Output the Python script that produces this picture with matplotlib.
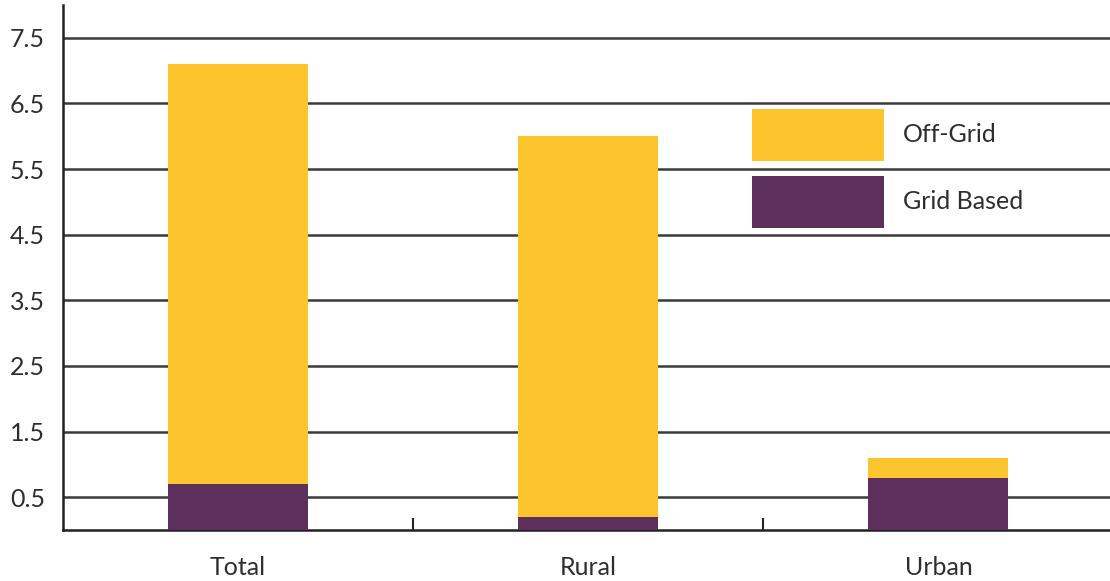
import numpy as np
import matplotlib.pyplot as plt
from matplotlib.ticker import FixedLocator

# data
categories = ['Total', 'Rural', 'Urban']
grid_based = [0.7, 0.2, 0.8]
off_grid = [6.4, 5.8, 0.3]
y_ticks = [0.5, 1.5, 2.5, 3.5, 4.5, 5.5, 6.5, 7.5]

yellow = '#FDC52D'
purple = '#5C2F5C'
txt = '#2e2e2e'

plt.rcParams['font.family'] = ['Lato', 'DejaVu Sans']

fig = plt.figure(figsize=(11.1, 5.81), dpi=100)
ax = fig.add_axes([63 / 1110, 51 / 581, 1047 / 1110, 525 / 581])

x = np.arange(len(categories))
b1 = ax.bar(x, grid_based, width=0.4, color=purple, zorder=3)
b2 = ax.bar(x, off_grid, width=0.4, bottom=grid_based, color=yellow, zorder=3)

ax.set_xlim(-0.5, 2.49)
ax.set_ylim(0, 8)

# horizontal grid
ax.set_yticks(y_ticks)
ax.set_yticklabels([str(v) for v in y_ticks])
ax.yaxis.grid(True, color='#3a3a3a', linewidth=1.8, zorder=1)
ax.set_axisbelow(True)
ax.tick_params(axis='y', length=0, pad=13, labelsize=18, labelcolor=txt)

ax.set_xticks(x)
ax.set_xticklabels(categories)
ax.tick_params(axis='x', which='major', length=0, pad=19, labelsize=18, labelcolor=txt)
ax.xaxis.set_minor_locator(FixedLocator([0.5, 1.5]))
ax.tick_params(axis='x', which='minor', direction='in', length=9, width=1.5, color='#222222')

for s in ['top', 'right']:
    ax.spines[s].set_visible(False)
for s in ['left', 'bottom']:
    ax.spines[s].set_linewidth(1.8)
    ax.spines[s].set_color('#222222')

leg = ax.legend([b2, b1], ['Off-Grid', 'Grid Based'], loc='upper left',
                bbox_to_anchor=(0.658, 0.802), frameon=False, fontsize=18,
                handlelength=5.28, handleheight=2.82, labelspacing=0.6,
                handletextpad=0.76, borderpad=0, borderaxespad=0)
for t in leg.get_texts():
    t.set_color(txt)

fig.savefig('out.png', dpi=100)
